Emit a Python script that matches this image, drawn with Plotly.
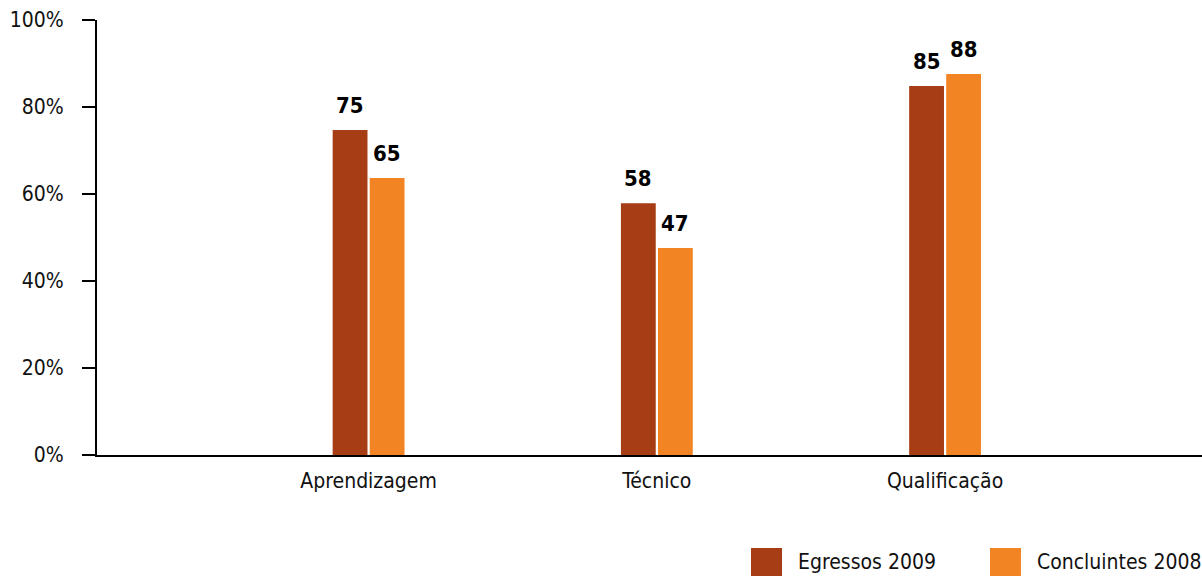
import plotly.graph_objects as go

# ---- data ----
categories = ["Aprendizagem", "Técnico", "Qualificação"]
series_names = ["Egressos 2009", "Concluintes 2008"]
egressos_2009 = [74.7, 57.9, 84.8]
concluintes_2008 = [63.7, 47.6, 87.6]
egressos_labels = ["75", "58", "85"]
concluintes_labels = ["65", "47", "88"]
y_ticks = [0, 20, 40, 60, 80, 100]
y_tick_labels = ["0%", "20%", "40%", "60%", "80%", "100%"]

# ---- style ----
FONT = "DejaVu Sans Condensed, Liberation Sans Narrow, Arial Narrow, sans-serif"
FS = 21
COLORS = ["#A73D14", "#F38424"]
W, H = 1202, 576
# plot area in page pixels
P_L, P_R, P_T, P_B = 97, 1202, 20, 455
M_L, M_R, M_T, M_B = P_L, W - P_R, P_T, H - P_B
CAT_PX = 288.25
FIRST_CAT_PX = 368.6
BARGAP = 0.743
BARGROUPGAP = 0.06

x_lo = (P_L - FIRST_CAT_PX) / CAT_PX
x_hi = (P_R - FIRST_CAT_PX) / CAT_PX

fig = go.Figure()
all_vals = [egressos_2009, concluintes_2008]
all_labels = [egressos_labels, concluintes_labels]
for name, vals, col in zip(series_names, all_vals, COLORS):
    fig.add_trace(go.Bar(x=categories, y=vals, name=name,
                         marker=dict(color=col, line=dict(width=0)),
                         showlegend=False, hoverinfo="skip"))

slot_px = CAT_PX * (1 - BARGAP) / 2
annotations = []
for i, (vals, labs) in enumerate(zip(all_vals, all_labels)):
    for cat, v, lab in zip(categories, vals, labs):
        annotations.append(dict(x=cat, y=v, xref="x", yref="y", text=lab,
                                showarrow=False, yanchor="bottom",
                                xshift=(i - 0.5) * slot_px, yshift=10,
                                font=dict(family=FONT, size=22, color="black",
                                          weight="bold")))

def px_to_paper_x(px):
    return (px - P_L) / (P_R - P_L)

def px_to_paper_y(py):
    return (P_B - py) / (P_B - P_T)

shapes = []
leg_x = [751, 990]
for name, col, lx in zip(series_names, COLORS, leg_x):
    shapes.append(dict(type="rect", xref="paper", yref="paper",
                       x0=px_to_paper_x(lx), x1=px_to_paper_x(lx + 31),
                       y0=px_to_paper_y(548), y1=px_to_paper_y(582),
                       fillcolor=col, line=dict(width=0)))
    annotations.append(dict(x=px_to_paper_x(lx + 45), y=px_to_paper_y(562),
                            xref="paper", yref="paper", text=name,
                            showarrow=False, xanchor="left", yanchor="middle",
                            font=dict(family=FONT, size=FS, color="#111")))

fig.update_layout(
    width=W, height=H, autosize=False,
    margin=dict(l=M_L, r=M_R, t=M_T, b=M_B, pad=0),
    paper_bgcolor="white", plot_bgcolor="white",
    barmode="group", bargap=BARGAP, bargroupgap=BARGROUPGAP,
    font=dict(family=FONT, size=FS, color="#111"),
    annotations=annotations, shapes=shapes,
    showlegend=False,
)
fig.update_xaxes(type="category", range=[x_lo, x_hi], showline=True,
                 linewidth=2, linecolor="black", ticks="", showgrid=False,
                 ticklabelstandoff=6,
                 tickfont=dict(family=FONT, size=FS, color="#111"),
                 fixedrange=True)
fig.update_yaxes(range=[0, 100], tickvals=y_ticks, ticktext=y_tick_labels,
                 showline=True, linewidth=2, linecolor="black",
                 ticks="outside", ticklen=13, tickwidth=2, tickcolor="black",
                 ticklabelstandoff=14, showgrid=False, zeroline=False,
                 tickfont=dict(family=FONT, size=FS, color="#111"),
                 fixedrange=True)

fig.write_html(
    "out.html",
    config={"displayModeBar": False, "responsive": False},
    post_script="document.body.style.margin='0';document.body.style.overflow='hidden';",
)
